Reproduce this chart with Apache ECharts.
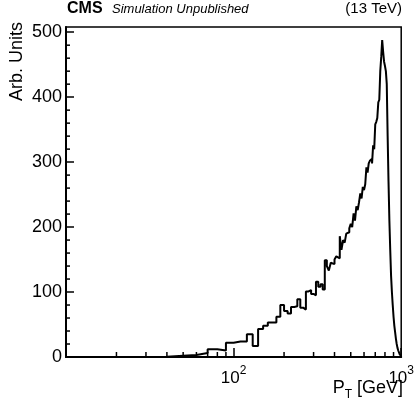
<!DOCTYPE html>
<html>
<head>
<meta charset="utf-8">
<script src="https://cdn.jsdelivr.net/npm/echarts@6/dist/echarts.min.js"></script>
<style>
  html, body { margin: 0; padding: 0; background: #fff; }
  #chart { width: 417px; height: 409px; }
</style>
</head>
<body>
<div id="chart"></div>
<script>
// Jet pT spectrum, 10 GeV bins from 10 to 1000 GeV
const binWidth = 10;
const firstEdge = 10;
const lastEdge = 1000;
const counts = [
  0, 0, 0.5, 2, 3, 6, 12, 10, 22,            // 10-90
  24, 24, 35, 17, 43, 48, 53, 53, 62, 80,     // 100-190
  71, 67, 77, 78, 89, 76, 73, 101, 103, 97,   // 200-290
  95, 116, 108, 112, 104, 149, 140, 133, 145, 143, // 300-390
  150, 155, 152, 186, 165, 180, 176, 190, 192, 198, // 400-490
  205, 200, 221, 210, 232, 226, 238, 252, 244, 262, // 500-590
  257, 266, 292, 284, 298, 302, 305, 298, 326, 320, // 600-690
  358, 362, 368, 392, 396, 440, 462, 488, 470, 455, // 700-790
  448, 440, 420, 340, 270, 210, 165, 125, 100, 80,  // 800-890
  62, 48, 38, 28, 20, 14, 10, 7, 4, 2               // 900-990
];

// Axis ticks
const yMajorTicks = [0, 100, 200, 300, 400, 500];
const yMinorTicks = [20, 40, 60, 80, 120, 140, 160, 180, 220, 240, 260, 280,
                     320, 340, 360, 380, 420, 440, 460, 480];
const xMinorTicks = [20, 30, 40, 50, 60, 70, 80, 90, 200, 300, 400, 500, 600, 700, 800, 900];
const xLabelExponents = { 100: 2, 1000: 3 };

const yMax = 508;
const FONT = '"Liberation Sans", Arial, Helvetica, sans-serif';
const TICK_WIDTH = 1.5;

// Step outline: one point per low bin edge, plus the closing upper edge
const stepData = counts.map((c, i) => [firstEdge + i * binWidth, c]);
stepData.push([lastEdge, counts[counts.length - 1]]);

const chart = echarts.init(document.getElementById('chart'), null, { renderer: 'canvas' });

function tickRenderer(dx, dy) {
  return function (params, api) {
    const p = api.coord([api.value(0), api.value(1)]);
    return {
      type: 'line',
      shape: { x1: p[0], y1: p[1], x2: p[0] + dx, y2: p[1] + dy },
      style: { stroke: '#000', lineWidth: TICK_WIDTH }
    };
  };
}

const option = {
  animation: false,
  backgroundColor: '#fff',
  grid: {
    left: 66, right: 15, top: 27, bottom: 52,
    show: true, borderColor: '#000', borderWidth: 1.5, backgroundColor: 'transparent'
  },
  xAxis: {
    type: 'log', logBase: 10, min: 10, max: 1000,
    axisLine: { show: true, onZero: false, lineStyle: { color: '#000', width: 2 } },
    axisTick: { show: true, inside: true, length: 9, lineStyle: { color: '#000', width: TICK_WIDTH } },
    splitLine: { show: false },
    axisLabel: {
      margin: 8,
      color: '#000',
      formatter: function (v) {
        const e = xLabelExponents[Math.round(v)];
        return e ? '{b|10}{s|' + e + '}' : '';
      },
      rich: {
        b: { fontSize: 17, fontFamily: FONT, color: '#000', verticalAlign: 'bottom', lineHeight: 22 },
        s: { fontSize: 12, fontFamily: FONT, color: '#000', verticalAlign: 'top', lineHeight: 22 }
      }
    }
  },
  yAxis: {
    type: 'value', min: 0, max: yMax,
    axisLine: { show: true, lineStyle: { color: '#000', width: 2 } },
    axisTick: { show: true, inside: true, length: 8, customValues: yMajorTicks, lineStyle: { color: '#000', width: TICK_WIDTH } },
    splitLine: { show: false },
    axisLabel: {
      customValues: yMajorTicks,
      margin: 4, fontSize: 18, fontFamily: FONT, color: '#000'
    }
  },
  series: [
    {
      type: 'line',
      step: 'end',
      data: stepData,
      showSymbol: false,
      lineStyle: { color: '#000', width: 2 },
      silent: true,
      z: 5
    },
    {
      // minor ticks along the log x axis
      type: 'custom',
      silent: true,
      clip: false,
      data: xMinorTicks.map(v => [v, 0]),
      renderItem: tickRenderer(0, -5),
      z: 4
    },
    {
      // minor ticks along the y axis
      type: 'custom',
      silent: true,
      clip: false,
      data: yMinorTicks.map(v => [10, v]),
      renderItem: tickRenderer(4, 0),
      z: 4
    }
  ],
  graphic: [
    {
      type: 'text', left: 67, top: 1,
      style: { text: 'CMS', font: 'bold 16px ' + FONT, fill: '#000' }
    },
    {
      type: 'text', left: 112, top: 3,
      style: { text: 'Simulation Unpublished', font: 'italic 13px ' + FONT, fill: '#000' }
    },
    {
      type: 'text', right: 15, top: 1,
      style: { text: '(13 TeV)', font: '15px ' + FONT, fill: '#000' }
    },
    {
      type: 'text', x: 17, y: 22, rotation: Math.PI / 2,
      style: {
        text: 'Arb. Units', font: '18px ' + FONT, fill: '#000',
        align: 'right', verticalAlign: 'middle'
      }
    },
    {
      type: 'text', x: 403, y: 390,
      style: {
        text: '{a|P}{t|T}{a| [GeV]}',
        align: 'right', verticalAlign: 'middle',
        rich: {
          a: { fontSize: 18, fontFamily: FONT, fill: '#000', verticalAlign: 'top', lineHeight: 22 },
          t: { fontSize: 12, fontFamily: FONT, fill: '#000', verticalAlign: 'bottom', lineHeight: 22 }
        }
      }
    }
  ]
};

chart.setOption(option);
</script>
</body>
</html>
